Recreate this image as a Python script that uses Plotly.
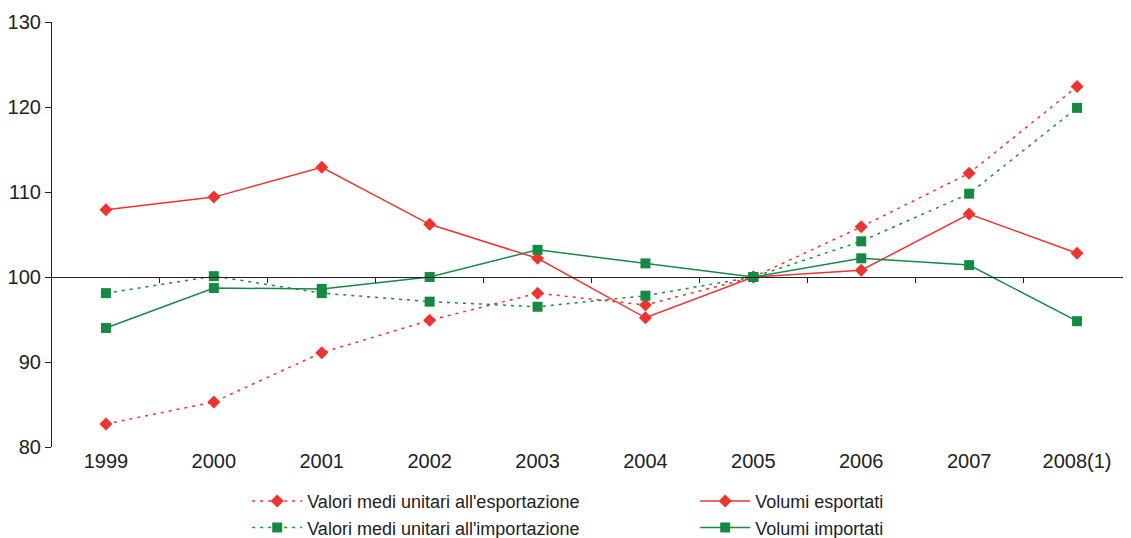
import plotly.graph_objects as go

# ── Data (index, 2005 = 100) ───────────────────────────────────────────────────
YEARS = ["1999", "2000", "2001", "2002", "2003", "2004", "2005", "2006", "2007", "2008(1)"]

VALORI_EXPORT = [82.7, 85.3, 91.1, 94.9, 98.1, 96.7, 100.0, 105.9, 112.2, 122.4]
VOLUMI_EXPORT = [107.9, 109.4, 112.9, 106.2, 102.2, 95.2, 100.0, 100.8, 107.4, 102.8]
VALORI_IMPORT = [98.1, 100.1, 98.1, 97.1, 96.5, 97.8, 100.0, 104.2, 109.8, 119.9]
VOLUMI_IMPORT = [94.0, 98.7, 98.6, 100.0, 103.2, 101.6, 100.0, 102.2, 101.4, 94.8]

BOUNDARY_TICKS = [0.5, 1.5, 2.5, 3.5, 4.5, 5.5, 6.5, 7.5, 8.5]

# ── Colours ────────────────────────────────────────────────────────────────────
RED = "#ee3430"
GREEN = "#178a42"
INK = "#222222"
FONT = "Arial, Liberation Sans, sans-serif"

series = [
    ("Valori medi unitari all'esportazione", VALORI_EXPORT, RED, "diamond", "3px,5px"),
    ("Volumi esportati", VOLUMI_EXPORT, RED, "diamond", "solid"),
    ("Valori medi unitari all'importazione", VALORI_IMPORT, GREEN, "square", "3px,5px"),
    ("Volumi importati", VOLUMI_IMPORT, GREEN, "square", "solid"),
]

fig = go.Figure()
for name, vals, colour, symbol, dash in series:
    fig.add_trace(
        go.Scatter(
            x=YEARS,
            y=vals,
            name=name,
            mode="lines+markers",
            line=dict(color=colour, width=1.5, dash=dash),
            marker=dict(symbol=symbol, size=10, color=colour),
        )
    )

# invisible trace so the crossing axis (at 100) is drawn
fig.add_trace(
    go.Scatter(x=[0], y=[100], xaxis="x2", mode="markers",
               marker=dict(opacity=0), showlegend=False, hoverinfo="skip")
)

# page body has an 8px margin -> figure is 8px smaller than the window
fig.update_layout(
    width=1123,
    height=530,
    font=dict(family=FONT, size=20, color=INK),
    margin=dict(l=40, r=0, t=14, b=91),
    plot_bgcolor="#ffffff",
    paper_bgcolor="#ffffff",
    xaxis=dict(
        type="category",
        range=[-0.5, 9.5],
        showline=False,
        showgrid=False,
        ticks="",
        zeroline=False,
        tickfont=dict(size=20, color=INK),
    ),
    xaxis2=dict(
        overlaying="x",
        anchor="free",
        position=0.4,  # y = 100 on an 80–130 scale
        range=[-0.5, 9.5],
        showline=True,
        linecolor=INK,
        linewidth=1.2,
        showgrid=False,
        zeroline=False,
        ticks="outside",
        ticklen=5,
        tickcolor=INK,
        tickvals=BOUNDARY_TICKS,
        showticklabels=False,
    ),
    yaxis=dict(
        range=[80, 130],
        dtick=10,
        showline=True,
        linecolor=INK,
        linewidth=1.2,
        ticks="outside",
        ticklen=6,
        tickcolor=INK,
        showgrid=False,
        zeroline=False,
        tickfont=dict(size=20, color=INK),
    ),
    legend=dict(
        orientation="h",
        xref="container",
        yref="container",
        x=0.213,
        xanchor="left",
        y=0.104,
        yanchor="top",
        entrywidth=383,
        entrywidthmode="pixels",
        itemwidth=50,
        tracegroupgap=0,
        font=dict(size=18, color=INK),
    ),
    showlegend=True,
)

fig.write_html("out.html")
